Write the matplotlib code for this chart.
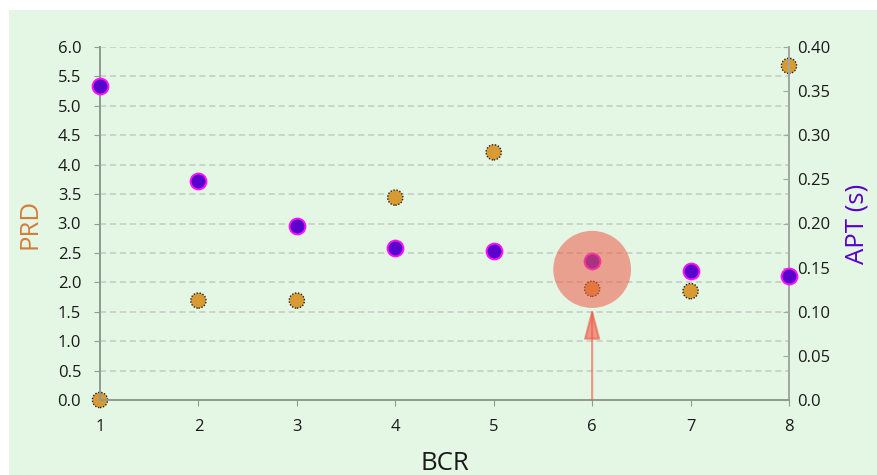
import matplotlib.pyplot as plt
from matplotlib.patches import Rectangle, Ellipse

# Data
bcr = [1, 2, 3, 4, 5, 6, 7, 8]
prd = [0.0, 1.69, 1.69, 3.44, 4.21, 1.89, 1.85, 5.68]
apt = [0.356, 0.248, 0.197, 0.172, 0.169, 0.158, 0.146, 0.140]
prd_ticks = [0.0, 0.5, 1.0, 1.5, 2.0, 2.5, 3.0, 3.5, 4.0, 4.5, 5.0, 5.5, 6.0]
apt_ticks = [0.0, 0.05, 0.10, 0.15, 0.20, 0.25, 0.30, 0.35, 0.40]
apt_labels = ["0.0", "0.05", "0.10", "0.15", "0.20", "0.25", "0.30", "0.35", "0.40"]
highlight_bcr = 6
highlight_prd = 2.22  # centre of the highlight circle, in PRD units

plt.rcParams["font.family"] = ["Open Sans", "DejaVu Sans"]

W, H = 877, 475
fig = plt.figure(figsize=(W / 100, H / 100), dpi=100, facecolor="white")
# light green panel with a thin white margin at top and left
fig.patches.append(Rectangle((9 / W, 0), 1 - 9 / W, 1 - 10 / H, transform=fig.transFigure,
                             facecolor="#e4f6e4", edgecolor="none", zorder=-10))

ax = fig.add_axes([100 / W, 1 - 400 / H, 689 / W, 353 / H])
ax.set_facecolor("none")
ax2 = ax.twinx()
ax2.set_facecolor("none")

ax.set_xlim(1, 8)
ax.set_ylim(0, 6)
ax2.set_ylim(0, 0.4)
ax.set_xticks(bcr)
ax.set_yticks(prd_ticks)
ax.set_yticklabels([f"{v:.1f}" for v in prd_ticks])
ax2.set_yticks(apt_ticks)
ax2.set_yticklabels(apt_labels)

ax.grid(axis="y", color="#c3cac3", linestyle=(0, (4, 2.5)), linewidth=1.1)
ax.set_axisbelow(True)

spine_c = "#8f9c8f"
for a in (ax, ax2):
    a.spines["top"].set_visible(False)
    for s in ("left", "right", "bottom"):
        a.spines[s].set_color(spine_c)
        a.spines[s].set_linewidth(1.4)
ax2.spines["right"].set_color("#a4a8a4")
ax.tick_params(axis="both", colors=spine_c, labelcolor="#1a1a1a", labelsize=12, length=4.5)
ax.tick_params(axis="y", pad=9)
ax.tick_params(axis="x", pad=9)
ax2.tick_params(axis="y", colors="#a4a8a4", labelcolor="#1a1a1a", labelsize=12,
                direction="in", length=4, pad=6)

ax.scatter(bcr, prd, s=120, facecolor="#d89a32", edgecolor="#222222", linewidth=1,
           linestyle=(0, (1, 1.2)), zorder=3, clip_on=False)
ax2.scatter(bcr, apt, s=130, facecolor="#5a00cc", edgecolor="#ff10ff", linewidth=1.4,
            zorder=3, clip_on=False)

ax.set_xlabel("BCR", fontsize=18.5, color="#1a1a1a", labelpad=12)
ax.set_ylabel("PRD", fontsize=18.5, color="#d57c3a", labelpad=11)
ax2.set_ylabel("APT (s)", fontsize=18.5, color="#5a00cc", labelpad=10)

# highlight circle and arrow around BCR = 6, drawn on top
ax2.add_patch(Ellipse((highlight_bcr, highlight_prd / 15), width=0.79, height=1.31 / 15,
                      facecolor="#f05a48", edgecolor="none", alpha=0.55, zorder=5,
                      clip_on=False))
ax2.annotate("", xy=(highlight_bcr, (highlight_prd - 0.655) / 15), xytext=(highlight_bcr, 0),
             arrowprops=dict(arrowstyle="-|>,head_length=1.9,head_width=0.5",
                             color="#f05a48", alpha=0.6, lw=1.6,
                             shrinkA=0, shrinkB=0), zorder=5)

fig.savefig("out.png", dpi=100, facecolor="white")
